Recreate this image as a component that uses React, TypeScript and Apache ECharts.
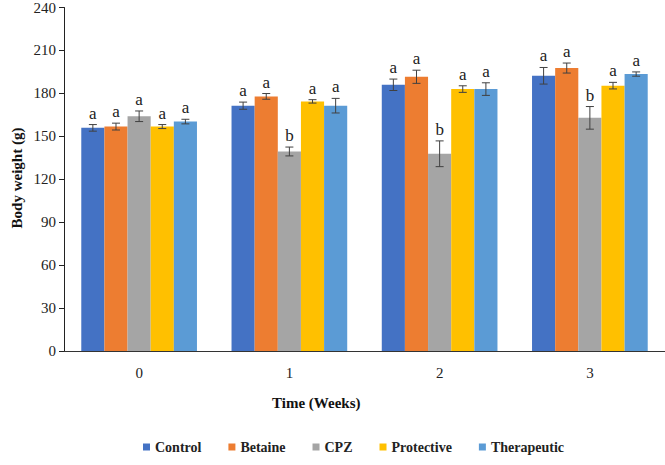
import React, { useEffect, useRef } from "react";
import * as echarts from "echarts";

const categories = ["0", "1", "2", "3"];
const seriesNames = ["Control", "Betaine", "CPZ", "Protective", "Therapeutic"];
const colors = ["#4472C4", "#ED7D31", "#A5A5A5", "#FFC000", "#5B9BD5"];
const yTicks = { min: 0, max: 240, interval: 30 };

const controlValues = [155.9, 171.4, 186.0, 192.3];
const betaineValues = [156.8, 177.9, 191.6, 197.7];
const cpzValues = [164.0, 139.4, 137.8, 162.9];
const protectiveValues = [156.8, 174.4, 183.0, 185.4];
const therapeuticValues = [160.3, 171.4, 183.0, 193.5];

const controlErr = [2.3, 2.5, 4.0, 5.8];
const betaineErr = [2.4, 2.0, 4.6, 3.5];
const cpzErr = [3.7, 3.1, 9.0, 7.9];
const protectiveErr = [1.4, 1.2, 2.3, 2.3];
const therapeuticErr = [1.6, 5.1, 4.4, 1.5];

const controlLetters = ["a", "a", "a", "a"];
const betaineLetters = ["a", "a", "a", "a"];
const cpzLetters = ["a", "b", "b", "b"];
const protectiveLetters = ["a", "a", "a", "a"];
const therapeuticLetters = ["a", "a", "a", "a"];

const allValues = [controlValues, betaineValues, cpzValues, protectiveValues, therapeuticValues];
const allErr = [controlErr, betaineErr, cpzErr, protectiveErr, therapeuticErr];
const allLetters = [controlLetters, betaineLetters, cpzLetters, protectiveLetters, therapeuticLetters];

const FONT = "'Liberation Serif', 'Times New Roman', serif";
const CAT_GAP = 0.23;

export default function App() {
  const ref = useRef<HTMLDivElement>(null);
  useEffect(() => {
    document.body.style.margin = "0";
    const chart = echarts.init(ref.current!, null, { renderer: "svg" });
    const barSeries = seriesNames.map((name, i) => ({
      name,
      type: "bar",
      data: allValues[i],
      barGap: "0%",
      barCategoryGap: "23%",
      itemStyle: { color: colors[i] },
      z: 2,
    }));
    const errSeries = seriesNames.map((name, i) => ({
      name: name + "-err",
      type: "custom",
      z: 5,
      data: categories.map((_, c) => [c, allValues[i][c], allErr[i][c]]),
      encode: { x: 0, y: 1 },
      renderItem: (params: any, api: any) => {
        const c = api.value(0);
        const v = api.value(1);
        const e = api.value(2);
        const letter = allLetters[i][c];
        const catW = api.size([1, 0])[0];
        const bw = (catW * (1 - CAT_GAP)) / 5;
        const center = api.coord([c, v]);
        const x = center[0] + (i - 2) * bw;
        const yTop = api.coord([c, v + e])[1];
        const yBot = api.coord([c, v - e])[1];
        const hw = 4;
        const ls = { stroke: "#404040", lineWidth: 1 };
        return {
          type: "group",
          children: [
            { type: "line", shape: { x1: x, y1: yTop, x2: x, y2: yBot }, style: ls },
            { type: "line", shape: { x1: x - hw, y1: yTop, x2: x + hw, y2: yTop }, style: ls },
            { type: "line", shape: { x1: x - hw, y1: yBot, x2: x + hw, y2: yBot }, style: ls },
            {
              type: "text",
              x,
              y: yTop - 3,
              style: {
                text: letter,
                fill: "#222",
                font: `17px ${FONT}`,
                align: "center",
                verticalAlign: "bottom",
              },
            },
          ],
        };
      },
    }));
    chart.setOption({
      animation: false,
      grid: { left: 64, right: 0, top: 6.5, bottom: 114, containLabel: false },
      legend: {
        data: seriesNames,
        left: 138,
        top: 435,
        icon: "rect",
        itemWidth: 7,
        itemHeight: 7,
        itemGap: 27,
        textStyle: { fontFamily: FONT, fontSize: 14, fontWeight: "bold", color: "#222" },
      },
      xAxis: {
        type: "category",
        data: categories,
        axisLine: { lineStyle: { color: "#333", width: 1 } },
        axisTick: { show: false },
        axisLabel: { fontFamily: FONT, fontSize: 15, color: "#222", margin: 14 },
      },
      yAxis: {
        type: "value",
        min: yTicks.min,
        max: yTicks.max,
        interval: yTicks.interval,
        splitLine: { show: false },
        axisLine: { show: true, lineStyle: { color: "#222", width: 1 } },
        axisTick: { show: true, length: 5, lineStyle: { color: "#222" } },
        axisLabel: { fontFamily: FONT, fontSize: 15, color: "#222", margin: 8 },
      },
      graphic: [
        {
          type: "text",
          left: 272,
          top: 395,
          style: { text: "Time (Weeks)", font: `bold 15px ${FONT}`, fill: "#111" },
        },
        {
          type: "text",
          x: 17,
          y: 178,
          rotation: Math.PI / 2,
          style: {
            text: "Body weight (g)",
            font: `bold 15px ${FONT}`,
            fill: "#111",
            align: "center",
            verticalAlign: "middle",
          },
        },
      ],
      series: [...barSeries, ...errSeries],
    });
    return () => chart.dispose();
  }, []);
  return <div ref={ref} style={{ width: 665, height: 465 }} />;
}
